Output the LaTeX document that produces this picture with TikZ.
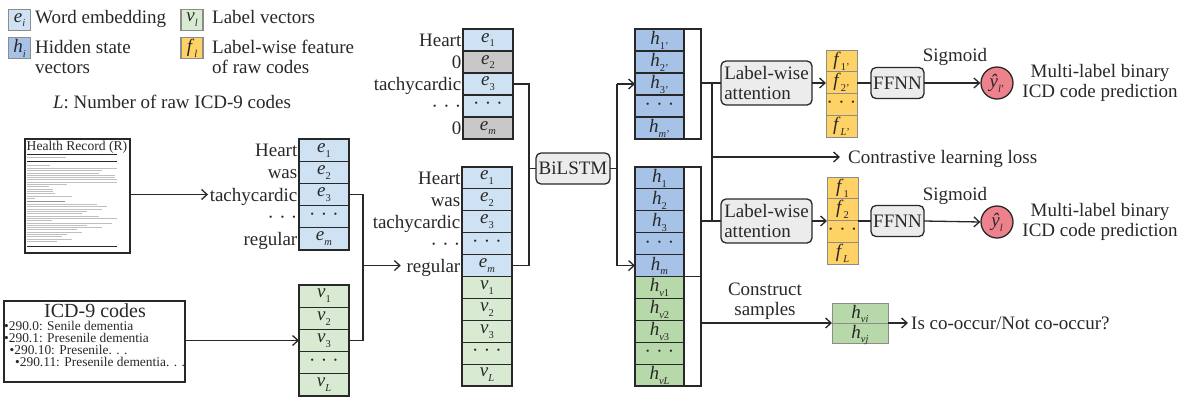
\documentclass[tikz,border=0pt]{standalone}
\usepackage{fontspec}
\setmainfont{Liberation Serif}
\usetikzlibrary{arrows.meta,calc}
\definecolor{eblue}{RGB}{207,226,243}
\definecolor{hblue}{RGB}{166,194,230}
\definecolor{vgreen}{RGB}{217,234,211}
\definecolor{hgreen}{RGB}{183,216,169}
\definecolor{forange}{RGB}{255,210,102}
\definecolor{zgray}{RGB}{200,200,200}
\definecolor{boxgray}{RGB}{236,236,236}
\definecolor{pinkred}{RGB}{238,130,140}
\definecolor{ink}{RGB}{40,40,40}
\definecolor{lgray}{RGB}{140,140,140}
\newcommand{\sbs}[1]{\raisebox{-0.26em}{\fontsize{10.5}{10.5}\selectfont #1}}
\newcommand{\cv}[2]{\textit{#1}\sbs{#2}}
\newcommand{\cdt}{·\hspace{0.28em}·\hspace{0.28em}·}
\newcommand{\mainfs}{\fontsize{19}{20}\selectfont}
\newcommand{\icdfs}{\fontsize{13.4}{14}\selectfont}
\tikzset{
  cellx/.style={draw=ink, line width=1.1pt, minimum width=50pt, minimum height=22pt, inner sep=0pt, outer sep=0pt},
  hcell/.style={cellx, minimum width=49pt, text height=13pt, text depth=4pt},
  fcell/.style={draw=lgray, line width=1pt, fill=forange, minimum width=31pt, minimum height=21.75pt, inner sep=0pt, outer sep=0pt},
  strip/.style={draw=ink, line width=1.1pt, fill=white, minimum width=17pt, inner sep=0pt, outer sep=0pt, anchor=north west},
  lbl/.style={anchor=east, inner sep=1.5pt, text height=13pt, text depth=0pt},
  rbox/.style={draw=ink, fill=boxgray, rounded corners=5pt, line width=1.3pt, inner sep=2pt, outer sep=0pt},
  lgbox/.style={draw=lgray, line width=1.2pt, minimum width=22pt, minimum height=21pt, inner sep=0pt},
  icdline/.style={anchor=base west, inner sep=0pt, font=\icdfs},
  conn/.style={draw=ink, line width=1.3pt},
  arr/.style={conn, ->},
}
\begin{document}
\begin{tikzpicture}[x=1pt, y=-1pt, every node/.style={font=\mainfs, text=ink},
  >={Straight Barb[length=5.5pt,width=10pt]}]
\useasboundingbox (0,0) rectangle (1184,397);

% ---------- legend ----------
\node[lgbox, fill=eblue] (lg1) at (19.5,20) {\cv{e}{\textit{i}}};
\node[anchor=base west, inner sep=0pt] (lt1) at (35,23.5) {Word embedding};
\node[lgbox, fill=vgreen] (lg2) at (192,20) {\cv{v}{\textit{l}}};
\node[anchor=base west, inner sep=0pt] (lt2) at (212,23.5) {Label vectors};
\node[lgbox, fill=hblue, text height=13pt, text depth=4pt] (lg3) at (19.5,48.3) {\cv{h}{\textit{i}}};
\node[anchor=base west, inner sep=0pt] (lt3a) at (35,53.3) {Hidden state};
\node[anchor=base west, inner sep=0pt] (lt3b) at (35,73) {vectors};
\node[lgbox, fill=forange] (lg4) at (192,48.3) {\cv{f}{\textit{l}}};
\node[anchor=base west, inner sep=0pt] (lt4a) at (212,53.3) {Label-wise feature};
\node[anchor=base west, inner sep=0pt] (lt4b) at (212,73) {of raw codes};
\node[anchor=base, inner sep=0pt] (lgL) at (172,108.3) {\textit{L}: Number of raw ICD-9 codes};

% ---------- health record ----------
\node[draw=ink, line width=1.8pt, minimum width=105pt, minimum height=114pt, anchor=north west, inner sep=0pt] (hr) at (24,138) {};
\node[anchor=base west, inner sep=0pt, font=\fontsize{13.6}{14}\selectfont] (hrt) at (26.5,150.5) {Health Record (R)};
\foreach \yy in {154.3,161,246.7}
  \draw[ink, line width=0.9pt] (27,\yy) -- (117,\yy);
\foreach \yy/\lenx in {157.7/39,165/23,168.3/90,170.6/75,172.9/72,175.2/88,177.5/88,179.8/90,182.1/90,184.4/40,186.7/22,189/26,191.3/26,193.6/28,195.9/45,198.3/8,204.5/70,206.8/80,209.1/75,211.4/60,213.7/55,216/72,218.3/90,220.6/25,222.9/85,225.2/60,227.5/75,229.8/50,232.1/55,234.4/40,236.7/35,239/45,241.3/30}
  \draw[gray!50, line width=0.7pt] (27,\yy) -- ++(\lenx,0);
\draw[gray!85, line width=1pt] (27,201.5) -- ++(38,0);

% ---------- ICD-9 codes ----------
\node[draw=ink, line width=1.5pt, minimum width=181pt, minimum height=81pt, anchor=north west, inner sep=0pt] (icd) at (3,300) {};
\node[anchor=base, inner sep=0pt, font=\fontsize{20}{22}\selectfont] (icdt) at (95,317.5) {ICD-9 codes};
\node[icdline] (icd1) at (4,330.3) {•290.0: Senile dementia};
\node[icdline] (icd2) at (4,342) {•290.1: Presenile dementia};
\node[icdline] (icd3) at (9.5,354.2) {•290.10: Presenile. . .};
\node[icdline] (icd4) at (15,366.5) {•290.11: Presenile dementia. . .};

% ---------- left embedding column ----------
\foreach \i/\tx/\wrd in {1/{\cv{e}{1}}/Heart,2/{\cv{e}{2}}/was,3/{\cv{e}{3}}/tachycardic,4/{\cdt}/{\cdt},5/{\cv{e}{\textit{m}}}/regular}{
  \node[cellx, fill=eblue, minimum height=22.2pt] (le\i) at (324,{139+22.2*(\i-0.5)}) {\tx};
  \node[lbl] (lw\i) at (le\i.west) {\wrd};
}
\foreach \i/\tx in {1/{\cv{v}{1}},2/{\cv{v}{2}},3/{\cv{v}{3}},4/{\cdt},5/{\cv{v}{\textit{L}}}}{
  \node[cellx, fill=vgreen, minimum height=22.2pt] (lv\i) at (324,{285+22.2*(\i-0.5)}) {\tx};
}

% ---------- middle columns ----------
\foreach \i/\colr/\tx/\wrd in {1/eblue/{\cv{e}{1}}/Heart,2/zgray/{\cv{e}{2}}/0,3/eblue/{\cv{e}{3}}/tachycardic,4/eblue/{\cdt}/{\cdt},5/zgray/{\cv{e}{\textit{m}}}/0}{
  \node[cellx, fill=\colr] (te\i) at (488,{29+22*(\i-0.5)}) {\tx};
  \node[lbl] (tw\i) at (te\i.west) {\wrd};
}
\foreach \i/\colr/\tx in {1/eblue/{\cv{e}{1}},2/eblue/{\cv{e}{2}},3/eblue/{\cv{e}{3}},4/eblue/{\cdt},5/eblue/{\cv{e}{\textit{m}}},6/vgreen/{\cv{v}{1}},7/vgreen/{\cv{v}{2}},8/vgreen/{\cv{v}{3}},9/vgreen/{\cdt},10/vgreen/{\cv{v}{\textit{L}}}}{
  \node[cellx, fill=\colr, minimum height=21.9pt] (be\i) at (487,{167+21.9*(\i-0.5)}) {\tx};
}
\foreach \i/\wrd in {1/Heart,2/was,3/tachycardic,4/{\cdt},5/regular}
  \node[lbl] (bw\i) at (be\i.west) {\wrd};

% ---------- BiLSTM ----------
\node[rbox, minimum width=74pt, minimum height=31pt] (bil) at (573,168.5) {BiLSTM};

% ---------- hidden columns ----------
\foreach \i/\tx in {1/{\cv{h}{1'}},2/{\cv{h}{2'}},3/{\cv{h}{3'}},4/{\cdt},5/{\cv{h}{\textit{m}'}}}{
  \node[hcell, fill=hblue] (th\i) at (659.5,{29+22*(\i-0.5)}) {\tx};
}
\node[strip, minimum height=110pt] (ths) at (684,29) {};
\foreach \i/\colr/\tx in {1/hblue/{\cv{h}{1}},2/hblue/{\cv{h}{2}},3/hblue/{\cv{h}{3}},4/hblue/{\cdt},5/hblue/{\cv{h}{\textit{m}}},6/hgreen/{\cv{h}{\textit{v}1}},7/hgreen/{\cv{h}{\textit{v}2}},8/hgreen/{\cv{h}{\textit{v}3}},9/hgreen/{\cdt},10/hgreen/{\cv{h}{\textit{vL}}}}{
  \node[hcell, fill=\colr, minimum height=21.9pt] (bh\i) at (659.5,{167+21.9*(\i-0.5)}) {\tx};
}
\node[strip, minimum height=109.5pt] (bhs1) at (684,167) {};
\node[strip, minimum height=109.5pt] (bhs2) at (684,276.5) {};

% ---------- attention, features, FFNN, outputs ----------
\node[rbox, minimum width=91pt, minimum height=44pt, align=left, font=\fontsize{19}{20}\selectfont] (att1) at (766.5,83) {Label-wise\\attention};
\node[rbox, minimum width=91pt, minimum height=44pt, align=left, font=\fontsize{19}{20}\selectfont] (att2) at (766.5,221) {Label-wise\\attention};
\foreach \i/\tx in {1/{\cv{f}{1'}},2/{\cv{f}{2'}},3/{\cdt},4/{\cv{f}{\textit{L}'}}}
  \node[fcell] (tf\i) at (841.5,{50+21.75*(\i-0.5)}) {\tx};
\foreach \i/\tx in {1/{\cv{f}{1}},2/{\cv{f}{2}},3/{\cdt},4/{\cv{f}{\textit{L}}}}
  \node[fcell] (bf\i) at (842.5,{177+21.75*(\i-0.5)}) {\tx};
\node[rbox, minimum width=53pt, minimum height=31pt, inner sep=1pt] (ffn1) at (897.5,83) {FFNN};
\node[rbox, minimum width=53pt, minimum height=31pt, inner sep=1pt] (ffn2) at (897.5,221) {FFNN};
\node[circle, draw=ink, fill=pinkred, line width=1.3pt, minimum size=32pt, inner sep=0pt] (yh1) at (997,83) {\textit{\^y}\sbs{\textit{l}'}};
\node[circle, draw=ink, fill=pinkred, line width=1.3pt, minimum size=32pt, inner sep=0pt] (yh2) at (997,222) {\textit{\^y}\sbs{\textit{l}}};
\node[anchor=base, inner sep=0pt] (sg1) at (955,61) {Sigmoid};
\node[anchor=base, inner sep=0pt] (sg2) at (955,200) {Sigmoid};
\node[anchor=base, inner sep=0pt] (ml1a) at (1100,77) {Multi-label binary};
\node[anchor=base, inner sep=0pt] (ml1b) at (1100,97) {ICD code prediction};
\node[anchor=base, inner sep=0pt] (ml2a) at (1100,216.5) {Multi-label binary};
\node[anchor=base, inner sep=0pt] (ml2b) at (1100,236.5) {ICD code prediction};
\node[lbl, anchor=west, inner xsep=8pt] (cll) at (840,157) {Contrastive learning loss};
\node[anchor=base, inner sep=0pt] (cs1) at (765,295) {Construct};
\node[anchor=base, inner sep=0pt] (cs2) at (765,315) {samples};
\node[draw=lgray, fill=hgreen, line width=1pt, minimum width=56pt, minimum height=20pt, inner sep=0pt, outer sep=0pt, text height=13pt, text depth=3pt] (hv1) at (860,313) {\cv{h}{\textit{vi}}};
\node[draw=lgray, fill=hgreen, line width=1pt, minimum width=56pt, minimum height=20pt, inner sep=0pt, outer sep=0pt, text height=13pt, text depth=3pt] (hv2) at (860,333) {\cv{h}{\textit{vj}}};
\node[lbl, anchor=west, inner xsep=3pt] (isco) at (908,323) {Is co-occur/Not co-occur?};

% ---------- connectors ----------
\draw[arr] (hr.east |- lw3.west) -- (lw3.west);
\draw[arr] (icd.east |- lv3.west) -- (lv3.west);
\coordinate (jx) at ($(le3.east)+(14,0)$);
\draw[conn] (le3.east) -- (jx) |- (lv3.east);
\draw[arr, shorten >=4pt] (jx |- bw5.west) -- (bw5.west);
\coordinate (jm) at ($(te3.east)+(16,0)$);
\draw[conn] (te3.east) -- (jm) |- (be5.east);
\draw[conn] (jm |- bil.west) -- (bil.west);
\coordinate (jb) at ($(bil.east)+(7,0)$);
\draw[conn] (bil.east) -- (jb);
\draw[conn] (jb |- th3.west) -- (jb |- bh5.west);
\draw[arr] (jb |- th3.west) -- (th3.west);
\draw[arr] (jb |- bh5.west) -- (bh5.west);
\coordinate (jr) at ($(ths.east |- att1.west)+(11,0)$);
\draw[conn] (ths.east |- att1.west) -- (att1.west);
\draw[conn] (jr) -- (jr |- att2.west);
\draw[conn] (bhs1.east |- att2.west) -- (att2.west);
\draw[arr] (jr |- cll.west) -- (cll.west);
\draw[arr] (att1.east) -- (tf1.west |- att1.east);
\draw[conn] (tf1.east |- ffn1.west) -- (ffn1.west);
\draw[arr] (ffn1.east) -- (yh1.west);
\draw[arr] (att2.east) -- (bf1.west |- att2.east);
\draw[conn] (bf1.east |- ffn2.west) -- (ffn2.west);
\draw[arr] (ffn2.east) -- (yh2.west);
\draw[arr] (bhs2.east |- hv1.south west) -- (hv1.south west);
\draw[arr] (hv1.south east) -- (isco.west);
\end{tikzpicture}
\end{document}
